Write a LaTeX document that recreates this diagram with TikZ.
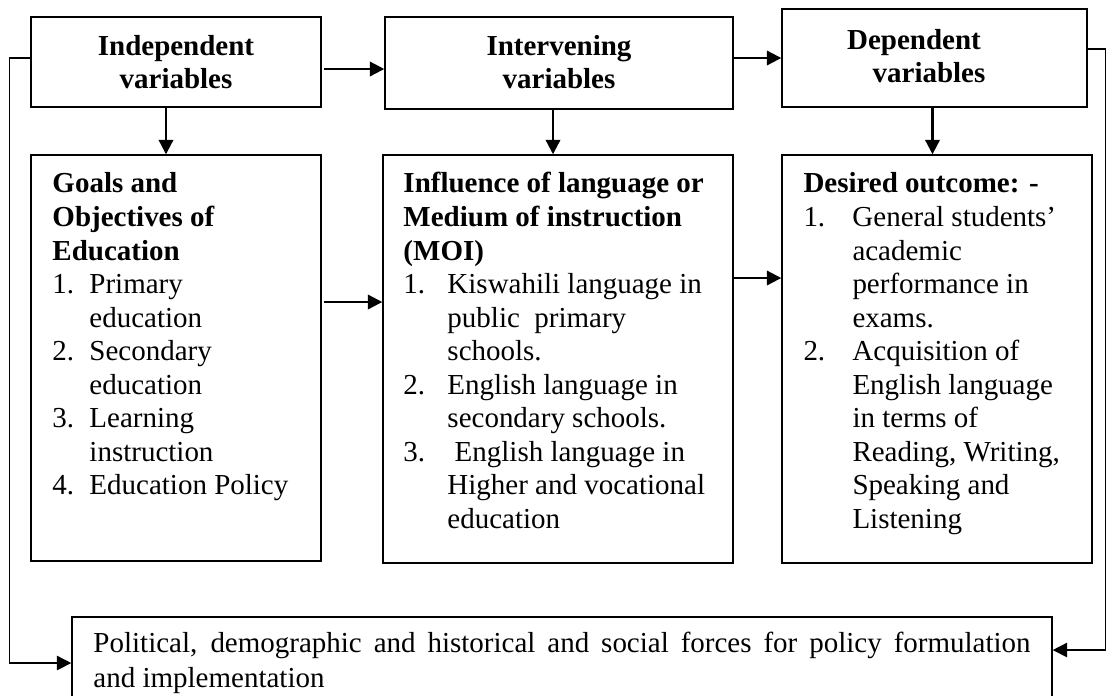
\documentclass[tikz,border=0pt]{standalone}
\usepackage{fontspec}
\setmainfont{Liberation Serif}
\usetikzlibrary{positioning,fit,calc,arrows.meta}
\newlength{\pxl}\setlength{\pxl}{0.414pt}
\newcommand{\lab}[2]{\makebox[#1\pxl][l]{#2}}
\newcommand{\hang}[1]{\hspace*{#1\pxl}}
\tikzstyle{box}=[draw,line width=0.6pt,inner sep=0pt]
\tikzstyle{arr}=[draw,line width=0.9pt,-{Triangle[length=6pt,width=6pt]}]
\tikzstyle{feedback}=[arr,line width=0.6pt]
\tikzstyle{head}=[inner sep=0pt,anchor=base,align=center,font=\fontsize{12}{13.66}\selectfont\bfseries]
\tikzstyle{txt}=[inner sep=0pt,anchor=base west,align=left,font=\fontsize{12}{13.87}\selectfont]

\begin{document}
\begin{tikzpicture}[x=\pxl,y=-\pxl]
    \useasboundingbox (0,0) rectangle (1106,695);
    % First the three variable boxes on top
    \node[box,fit={(31,17) (321,107)}] (indep) {};
    \node[box,fit={(385,17) (733,109)}] (interv) {};
    \node[box,fit={(782,9) (1087,107)}] (dep) {};
    % (base of a multi-line node = its last line)
    \node[head] (indeptxt) at (176,88) {Independent\\variables};
    \node[head] (intervtxt) at (559,88) {Intervening\\variables};
    \node[head] (deptxt) at (929,82) {Dependent\hspace*{30\pxl}\\variables};

    % the content boxes below them
    \node[box,fit={(31,155) (321,561)}] (goals) {};
    \node[box,fit={(383,155) (733,563)}] (moi) {};
    \node[box,fit={(782,155) (1092,563)}] (outc) {};
    \node[box,fit={(72,617) (1052,700)}] (forces) {};

    \node[txt] (goalstxt) at (52,494.5) {\textbf{Goals and}\\\textbf{Objectives of}\\\textbf{Education}\\
        \lab{37}{1.}Primary\\\hang{37}education\\
        \lab{37}{2.}Secondary\\\hang{37}education\\
        \lab{37}{3.}Learning\\\hang{37}instruction\\
        \lab{37}{4.}Education Policy};
    \node[txt] (moitxt) at (403,528) {\textbf{Influence of language or}\\\textbf{Medium of instruction}\\\textbf{(MOI)}\\
        \lab{44}{1.}Kiswahili language in\\\hang{44}public\ \ primary\\\hang{44}schools.\\
        \lab{44}{2.}English language in\\\hang{44}secondary schools.\\
        \lab{44}{3.}\ English language in\\\hang{44}Higher and vocational\\\hang{44}education};
    \node[txt] (outctxt) at (803,528) {\textbf{Desired outcome: -}\\
        \lab{49}{1.}General students’\\\hang{49}academic\\\hang{49}performance in\\\hang{49}exams.\\
        \lab{49}{2.}Acquisition of\\\hang{49}English language\\\hang{49}in terms of\\\hang{49}Reading, Writing,\\\hang{49}Speaking and\\\hang{49}Listening};
    \node[txt,font=\fontsize{12}{14.5}\selectfont] (forcestxt) at (93,687)
        {\makebox[937\pxl][s]{Political, demographic and historical and social forces for policy formulation}\\and implementation};

    % Connect the boxes
    \draw[arr] ($(indep.east)+(2,7)$) coordinate (a1) -- (a1 -| interv.west);
    \draw[arr] ($(interv.east)+(0,-5)$) coordinate (a2) -- (a2 -| dep.west);
    \draw[arr] ($(indep.south)+(-10,0)$) coordinate (a3) -- (a3 |- goals.north);
    \draw[arr] ($(interv.south)+(-6,0)$) coordinate (a4) -- (a4 |- moi.north);
    \draw[arr] ($(dep.south)+(-2,0)$) coordinate (a5) -- (a5 |- outc.north);
    \draw[arr] ($(goals.east)+(2,-56)$) coordinate (a6) -- (a6 -| moi.west);
    \draw[arr] ($(moi.east)+(0,-81)$) coordinate (a7) -- (a7 -| outc.west);
    % feedback lines round the sides
    \draw[feedback] ($(indep.west)+(0,-4)$) -- ++(-21,0) |- ($(forces.west)+(0,4.5)$);
    \draw[feedback] ($(dep.east)+(0,-9)$) -- ++(17.5,0) |- ($(forces.east)+(0,-8.5)$);
\end{tikzpicture}
\end{document}
